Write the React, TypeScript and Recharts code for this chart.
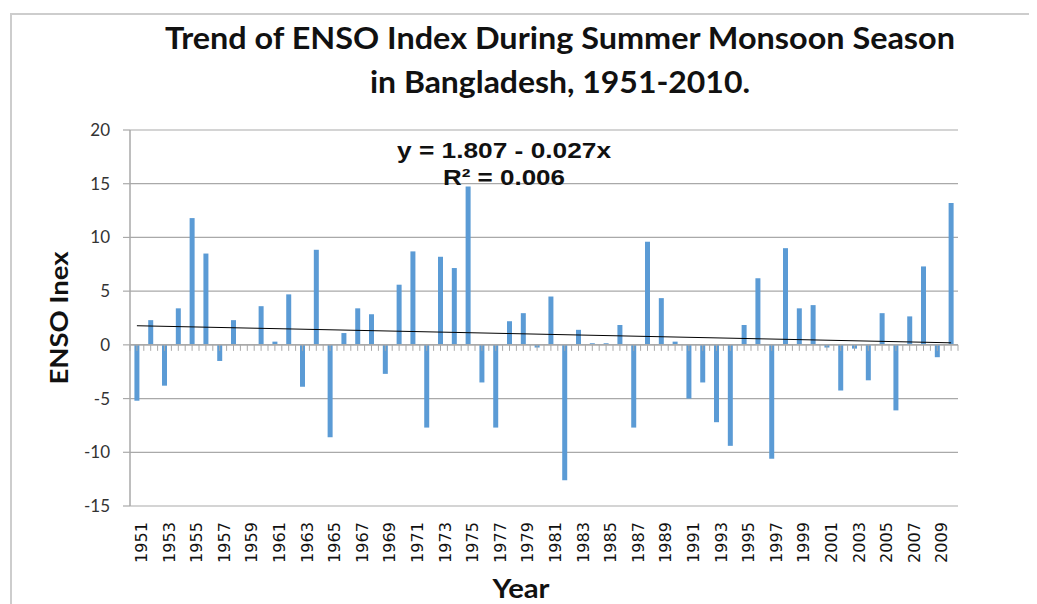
import React from "react";
import { BarChart, Bar, XAxis, YAxis, CartesianGrid, ReferenceLine } from "recharts";

const years: string[] = [
  "1951","1952","1953","1954","1955","1956","1957","1958","1959","1960",
  "1961","1962","1963","1964","1965","1966","1967","1968","1969","1970",
  "1971","1972","1973","1974","1975","1976","1977","1978","1979","1980",
  "1981","1982","1983","1984","1985","1986","1987","1988","1989","1990",
  "1991","1992","1993","1994","1995","1996","1997","1998","1999","2000",
  "2001","2002","2003","2004","2005","2006","2007","2008","2009","2010",
];

const ensoValues: number[] = [
  -5.2, 2.3, -3.8, 3.4, 11.8, 8.5, -1.5, 2.3, 0, 3.6,
  0.3, 4.7, -3.9, 8.85, -8.6, 1.1, 3.4, 2.85, -2.7, 5.6,
  8.7, -7.7, 8.2, 7.15, 14.75, -3.5, -7.7, 2.2, 2.95, -0.25,
  4.5, -12.6, 1.4, 0.15, 0.15, 1.85, -7.7, 9.6, 4.35, 0.3,
  -5.0, -3.5, -7.2, -9.4, 1.85, 6.2, -10.6, 9.0, 3.4, 3.7,
  -0.25, -4.25, -0.35, -3.3, 2.95, -6.1, 2.65, 7.3, -1.15, 13.2,
];

const yTicks: number[] = [-15, -10, -5, 0, 5, 10, 15, 20];

const titleLines: string[] = [
  "Trend of ENSO Index During Summer Monsoon Season",
  "in Bangladesh, 1951-2010.",
];
const equationText = "y = 1.807 - 0.027x";
const rSquaredText = "R\u00B2 = 0.006";
const trendStart = 1.78;
const trendEnd = 0.19;

const data = years.map((year, i) => ({ year, enso: ensoValues[i] }));

const W = 1029;
const H = 596;
const GRID = "#a9a9a9";
const BLUE = "#5B9BD5";

const XTick = (props: any) => {
  const { x, y, payload } = props;
  const tx = x + 10;
  const ty = y + 16;
  return (
    <text
      x={tx}
      y={ty}
      transform={`rotate(-90 ${tx} ${ty})`}
      textAnchor="end"
      fontFamily="DejaVu Sans, sans-serif"
      fontSize={15}
      fill="#111"
      textLength={41}
      lengthAdjust="spacingAndGlyphs"
    >
      {payload.value}
    </text>
  );
};

const ZeroAxis = (props: any) => {
  const { x1, y1, x2 } = props;
  const n = years.length * 2;
  const step = (x2 - x1) / n;
  const ticks = [];
  for (let k = 0; k <= n; k++) {
    const tx = x1 + k * step;
    ticks.push(<line key={k} x1={tx} x2={tx} y1={y1} y2={y1 + 6} stroke={GRID} strokeWidth={1} />);
  }
  return (
    <g>
      <line x1={x1} x2={x2} y1={y1} y2={y1} stroke={GRID} strokeWidth={1.5} />
      {ticks}
    </g>
  );
};

export default function App() {
  return (
    <div style={{ position: "relative", width: W, height: H, overflow: "hidden", background: "#fff" }}>
      <style>{`html,body{overflow:hidden;}`}</style>
      <div
        style={{
          position: "absolute",
          left: 2,
          top: 5,
          width: 1200,
          height: 800,
          borderLeft: "2px solid #cdcdcd",
          borderTop: "2px solid #cdcdcd",
        }}
      />
      <div style={{ position: "absolute", left: 0, top: 0 }}>
        <BarChart
          width={W}
          height={H}
          data={data}
          margin={{ top: 122, right: 79, left: 72, bottom: 38 }}
          barCategoryGap="32%"
        >
          <CartesianGrid vertical={false} stroke={GRID} strokeWidth={1.2} />
          <XAxis
            dataKey="year"
            interval={1}
            axisLine={false}
            tickLine={false}
            tickSize={0}
            tickMargin={0}
            height={60}
            tick={<XTick />}
          />
          <YAxis
            domain={[-15, 20]}
            ticks={yTicks}
            width={50}
            axisLine={{ stroke: GRID, strokeWidth: 1.5 }}
            tickLine={{ stroke: GRID, strokeWidth: 1.2 }}
            tickSize={7}
            tickMargin={13}
            tick={{ fontFamily: "Lato, sans-serif", fontSize: 17, fill: "#333" }}
          />
          <Bar dataKey="enso" fill={BLUE} isAnimationActive={false} />
          <ReferenceLine y={0} shape={ZeroAxis} />
          <ReferenceLine
            segment={[
              { x: years[0], y: trendStart },
              { x: years[years.length - 1], y: trendEnd },
            ]}
            stroke="#000"
            strokeWidth={1}
            ifOverflow="visible"
          />
        </BarChart>
      </div>
      <svg width={W} height={H} style={{ position: "absolute", left: 0, top: 0, pointerEvents: "none" }}>
        <text x={552} y={41} textAnchor="middle" fontFamily="Lato, sans-serif" fontWeight="bold" fontSize={30}
          fill="#111" textLength={790} lengthAdjust="spacingAndGlyphs">
          {titleLines[0]}
        </text>
        <text x={552} y={85} textAnchor="middle" fontFamily="Lato, sans-serif" fontWeight="bold" fontSize={30}
          fill="#111" textLength={380} lengthAdjust="spacingAndGlyphs">
          {titleLines[1]}
        </text>
        <text x={496} y={150} textAnchor="middle" fontFamily="Liberation Sans, Arial, sans-serif" fontWeight="bold"
          fontSize={22} fill="#111" textLength={214} lengthAdjust="spacingAndGlyphs">
          {equationText}
        </text>
        <text x={496} y={177} textAnchor="middle" fontFamily="Liberation Sans, Arial, sans-serif" fontWeight="bold"
          fontSize={22} fill="#111" textLength={122} lengthAdjust="spacingAndGlyphs">
          {rSquaredText}
        </text>
        <text x={60} y={310} transform="rotate(-90 60 310)" textAnchor="middle" fontFamily="Lato, sans-serif"
          fontWeight="bold" fontSize={25} fill="#111" textLength={133} lengthAdjust="spacingAndGlyphs">
          ENSO Inex
        </text>
        <text x={513} y={590} textAnchor="middle" fontFamily="Lato, sans-serif" fontWeight="bold" fontSize={26}
          fill="#111" textLength={57} lengthAdjust="spacingAndGlyphs">
          Year
        </text>
      </svg>
    </div>
  );
}
